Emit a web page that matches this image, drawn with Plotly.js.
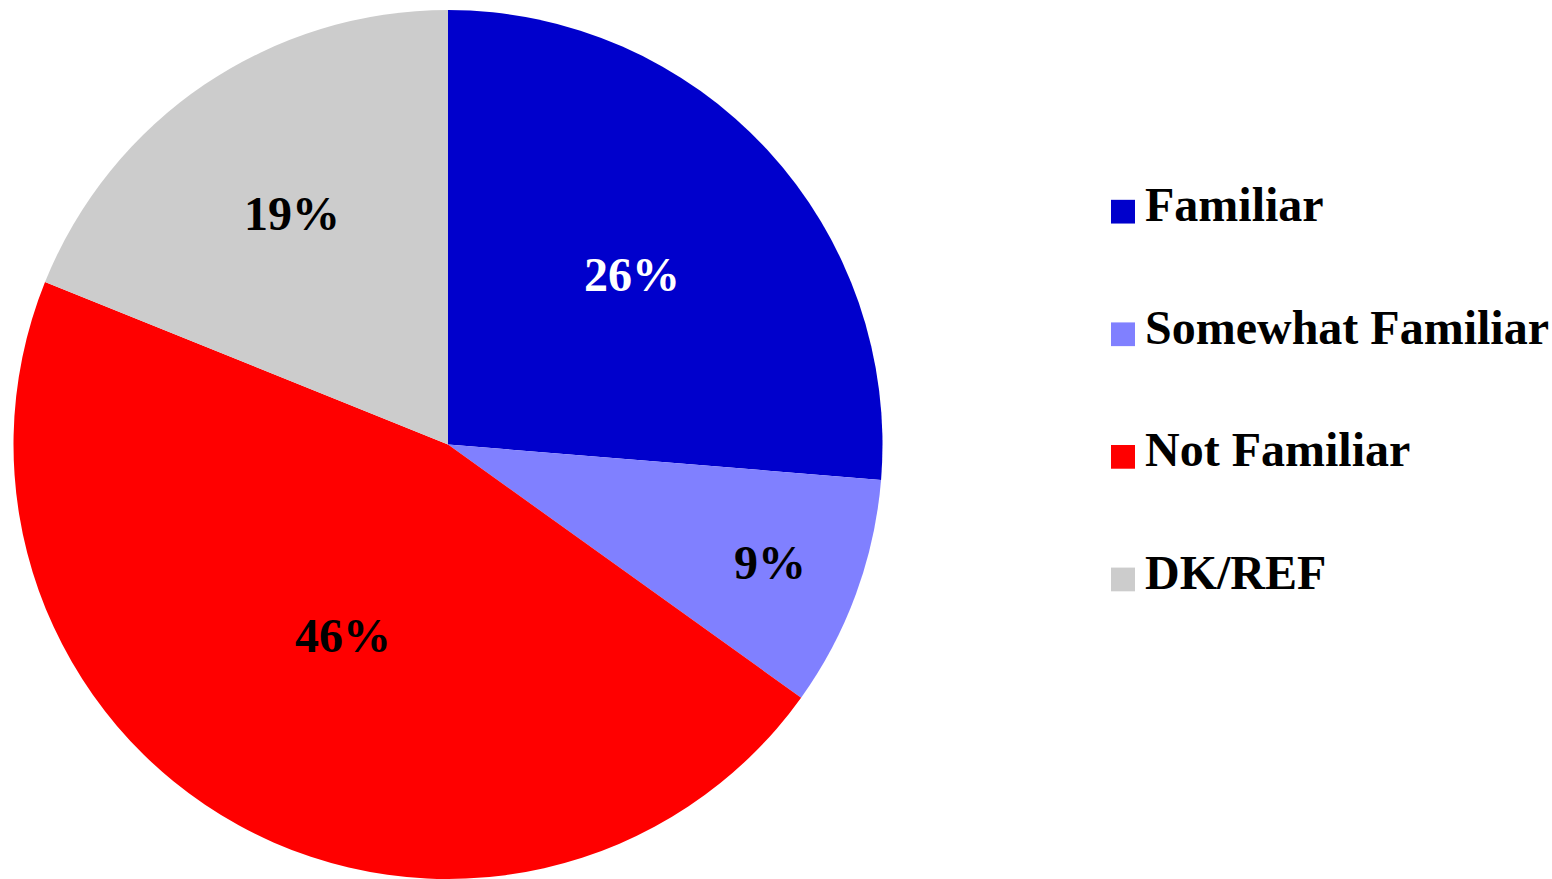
<!DOCTYPE html>
<html>
<head>
<meta charset="utf-8">
<script src="https://cdn.plot.ly/plotly-3.0.1.min.js"></script>
<style>html,body{margin:0;padding:0;background:#fff;}#chart{width:1552px;height:879px;}</style>
</head>
<body>
<div id="chart"></div>
<script>
const categories = ["Familiar", "Somewhat Familiar", "Not Familiar", "DK/REF"];
const values = [26.3, 8.6, 46.2, 18.9];
const colors = ["#0000CC", "#8080FF", "#FF0000", "#CCCCCC"];
const textColors = ["#FFFFFF", "#000000", "#000000", "#000000"];

const W = 1552, H = 879;
const fontFam = "'Liberation Serif', 'Times New Roman', serif";
const r = 434.5, cx = 448;
const trace = {
  type: 'pie',
  labels: categories,
  values: values,
  sort: false,
  direction: 'clockwise',
  rotation: 0,
  marker: {colors: colors, line: {width: 0}},
  texttemplate: '%{percent:.0%}',
  textposition: 'inside',
  insidetextorientation: 'horizontal',
  textfont: {family: fontFam, size: 48, color: textColors, weight: 'bold'},
  showlegend: false,
  hoverinfo: 'label+percent',
  domain: {x: [(cx - r) / W, (cx + r) / W], y: [0, 1]}
};

const annotations = [];
const shapes = [];
const legX = 1111, legTextX = 1143, legY0 = 204, legStep = 124, sq = 24, textShift = 7;
categories.forEach((c, i) => {
  const y = legY0 + i * legStep;
  shapes.push({type: 'rect', xref: 'paper', yref: 'paper',
    x0: legX / W, x1: (legX + sq) / W, y0: 1 - (y - sq / 2) / H, y1: 1 - (y + sq / 2) / H,
    fillcolor: colors[i], line: {width: 0}});
  annotations.push({xref: 'paper', yref: 'paper', x: legTextX / W, y: 1 - (y - textShift) / H,
    xanchor: 'left', yanchor: 'middle', showarrow: false, text: '<b>' + c + '</b>',
    font: {family: fontFam, size: 48, color: '#000'}});
});

const layout = {
  width: W, height: H,
  margin: {l: 0, r: 0, t: 10, b: 0},
  paper_bgcolor: '#fff',
  showlegend: false,
  annotations: annotations,
  shapes: shapes
};
Plotly.newPlot('chart', [trace], layout, {displayModeBar: false, staticPlot: true});
</script>
</body>
</html>
